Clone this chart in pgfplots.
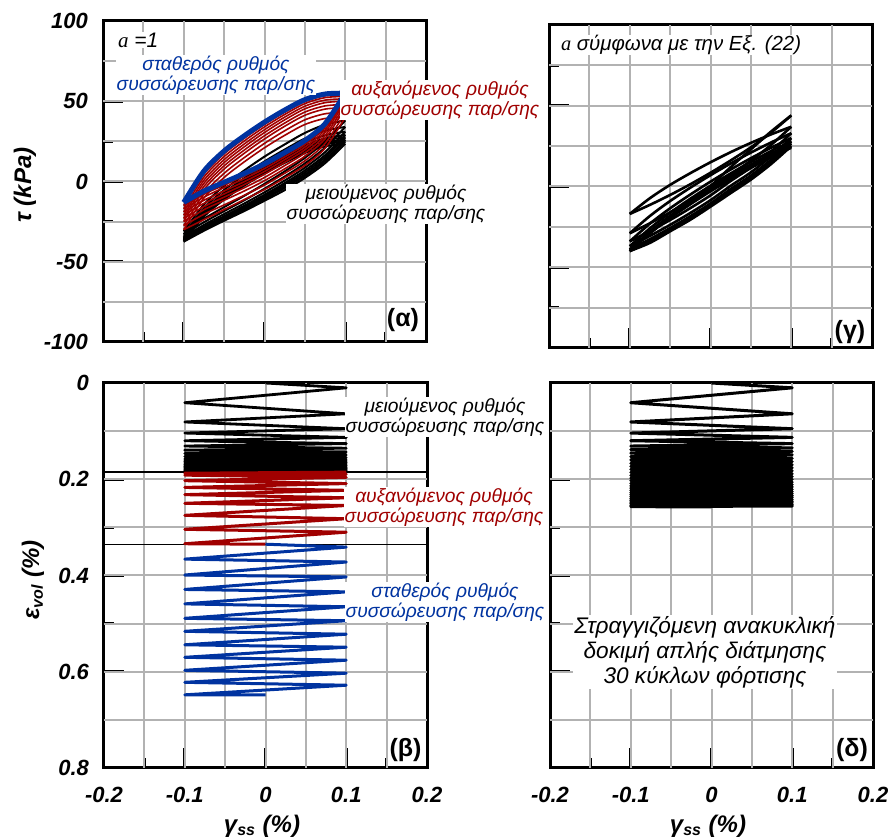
\documentclass[border=0pt]{standalone}
\usepackage{fontspec}
\setmainfont{Liberation Sans}
\newfontfamily\serifit{Liberation Serif}
\usepackage{pgfplots}
\usepackage{pgfplotstable}
\pgfplotsset{compat=1.18}
\definecolor{myblue}{RGB}{0,51,160}
\definecolor{myred}{RGB}{160,0,0}
\definecolor{gridgray}{RGB}{178,178,178}

% ---------- (alpha) loops ----------
\pgfplotstableread{
x Bu Bl
-0.1 -13 -13
-0.075 6.5 -6
-0.05 19 -0.5
-0.025 28.5 5
0 37 11
0.025 44.5 18
0.05 51 25.5
0.075 54.5 36
0.1 55 55
}\tabBlue
\pgfplotstableread{
x R1u R1l R2u R2l R3u R3l R4u R4l R5u R5l R6u R6l R7u R7l R8u R8l
-0.1 -15 -15 -17 -17 -19 -19 -21 -21 -23 -23 -25 -25 -27.5 -27.5 -30 -30
-0.075 4.6 -7.9 2.75 -9.75 0.8 -11.7 -1.1 -13.6 -3.1 -15.6 -5.1 -17.6 -7.7 -20.4 -10.25 -23.75
-0.05 17.25 -2.25 15.5 -3.75 13.6 -5.9 11.75 -7.75 9.75 -9.75 7.75 -11.75 5.1 -14.6 2.5 -17.5
-0.025 26.9 3.4 25.25 1.75 23.4 -0.1 21.6 -1.9 19.6 -3.9 17.6 -5.9 14.9 -8.6 12.25 -11.25
0 35.5 9.5 34 8 32.25 6.25 30.5 4.5 28.5 2.5 26.5 0.5 23.75 -2.25 21 -5
0.025 43.1 16.6 41.75 15.25 40.1 13.6 38.4 11.9 36.4 9.9 34.4 7.9 31.6 5.1 28.75 2.25
0.05 49.75 24.25 48.5 23 46.9 21.4 45.25 19.75 43.25 17.75 41.25 15.75 38.4 12.9 35.5 10
0.075 53.4 34.9 52.25 33.75 50.7 32.2 49.1 30.6 47.1 28.6 45.1 26.6 42.2 23.7 39.25 20.75
0.1 54 54 53 53 51.5 51.5 50 50 48 48 46 46 43 43 40 40
}\tabRed
\pgfplotstableread{
x K1u K1l K2u K2l K3u K3l K4u K4l K5u K5l K6u K6l K7u K7l K8u K8l
-0.1 -31 -31 -33 -33 -34.5 -34.5 -35.5 -35.5 -36 -36 -36.5 -36.5 -37 -37 -37.5 -37.5
-0.075 -14.4 -23.2 -16.6 -25.4 -18.3 -27.1 -19.4 -28.2 -20.1 -28.9 -20.7 -29.5 -21.25 -30.05 -21.9 -30.7
-0.05 -2.75 -15.95 -5.25 -18.45 -7.1 -20.3 -8.4 -21.6 -9.1 -22.3 -9.9 -23.1 -10.5 -23.7 -11.25 -24.45
-0.025 6.9 -8.9 4.1 -11.7 2.1 -13.7 0.7 -15.1 -0.2 -16 -1.1 -16.9 -1.75 -17.55 -2.6 -18.4
0 15.5 -1.5 12.5 -4.5 10.25 -6.75 8.75 -8.25 7.75 -9.25 6.75 -10.25 6 -11 5 -12
0.025 23.1 6.3 19.9 3.1 17.4 0.6 15.8 -1 14.7 -2.1 13.6 -3.2 12.75 -4.05 11.6 -5.4
0.05 30.25 14.75 26.75 11.25 24.1 8.6 22.4 6.9 21.1 5.6 19.9 4.4 19 3.5 17.75 2.25
0.075 35.4 24.9 31.6 21.1 28.8 18.3 26.9 16.4 25.6 15.1 24.2 13.7 23.25 12.75 21.9 11.4
0.1 38 38 34 34 31 31 29 29 27.5 27.5 26 26 25 25 23.5 23.5
}\tabBlack
% ---------- (gamma) loops ----------
\pgfplotstableread{
x G1l G2u G3l G4u G5l G6u G7l G8u G9l G10u G11l G12u G13l G14u
-0.1 -17 -17 -29 -29 -34 -34 -37 -37 -39 -39 -40 -40 -40 -40
-0.075 -11.375 -7.25 -22.75 -18.25 -27.6 -23 -30.6 -25.9 -32.6 -27.8 -33.7 -28.9 -34.9 -29
-0.05 -5.25 1 -16 -9 -20.75 -13.5 -23.75 -16.25 -25.75 -18.1 -26.9 -19.25 -27.75 -19.5
-0.025 1.375 8.25 -8.75 -0.75 -13.4 -5 -16.4 -7.6 -18.4 -9.4 -19.6 -10.6 -20.6 -11
0 8.5 15 -1 7 -5.5 3 -8.5 0.5 -10.5 -1.25 -11.75 -2.5 -12.5 -3
0.025 16.125 21.25 7.25 14.25 3.4 10.5 0.4 8.1 -1.6 6.4 -2.9 5.1 -4.1 4.5
0.05 24.25 27 16 21 11.75 17.5 8.75 15.25 6.75 13.6 5.4 12.25 4.25 11.5
0.075 33.375 32.25 25.75 27.25 21.6 24 18.6 21.9 16.6 20.3 15.2 18.9 13.9 18
0.1 44 37 37 33 33 30 30 28 28 26.5 26.5 25 25 24
}\tabGamma
% ---------- (beta) zigzags ----------
\pgfplotstableread{
x y
0 0
0.1 0.010
-0.1 0.041
0.1 0.064
-0.1 0.081
0.1 0.095
-0.1 0.104
0.1 0.113
-0.1 0.120
0.1 0.126
-0.1 0.131
0.1 0.1355
-0.1 0.1395
0.1 0.1432
-0.1 0.1466
0.1 0.1497
-0.1 0.1526
0.1 0.1553
-0.1 0.1578
0.1 0.1601
-0.1 0.1623
0.1 0.1644
-0.1 0.1664
0.1 0.1683
-0.1 0.1701
0.1 0.1718
-0.1 0.1734
0.1 0.1749
-0.1 0.1764
0.1 0.1778
-0.1 0.1792
0.1 0.1805
-0.1 0.1818
0.1 0.1830
-0.1 0.1842
0.1 0.1853
}\tabZblack
\pgfplotstableread{
x y
0.1 0.1853
-0.1 0.1875
0.1 0.1895
-0.1 0.1915
0.1 0.196
-0.1 0.203
0.1 0.209
-0.1 0.217
0.1 0.223
-0.1 0.232
0.1 0.2385
-0.1 0.250
0.1 0.2545
-0.1 0.275
0.1 0.282
-0.1 0.304
0.1 0.310
-0.1 0.334
0 0.335
}\tabZred
\pgfplotstableread{
x y
0 0.335
0.1 0.341
-0.1 0.366
0.1 0.372
-0.1 0.399
0.1 0.403
-0.1 0.429
0.1 0.434
-0.1 0.459
0.1 0.465
-0.1 0.489
0.1 0.494
-0.1 0.516
0.1 0.522
-0.1 0.544
0.1 0.549
-0.1 0.570
0.1 0.576
-0.1 0.597
0.1 0.603
-0.1 0.622
0.1 0.628
-0.1 0.648
0 0.648
}\tabZblue
% ---------- (delta) zigzag ----------
\pgfplotstableread{
x y
0 0
0.1 0.010
-0.1 0.041
0.1 0.064
-0.1 0.081
0.1 0.095
-0.1 0.104
0.1 0.113
-0.1 0.120
0.1 0.126
-0.1 0.131
0.1 0.1348
-0.1 0.1386
0.1 0.1423
-0.1 0.1459
0.1 0.1495
-0.1 0.1531
0.1 0.1566
-0.1 0.1600
0.1 0.1634
-0.1 0.1668
0.1 0.1701
-0.1 0.1733
0.1 0.1765
-0.1 0.1797
0.1 0.1828
-0.1 0.1858
0.1 0.1888
-0.1 0.1918
0.1 0.1947
-0.1 0.1975
0.1 0.2003
-0.1 0.2031
0.1 0.2058
-0.1 0.2084
0.1 0.2110
-0.1 0.2136
0.1 0.2161
-0.1 0.2185
0.1 0.2209
-0.1 0.2233
0.1 0.2256
-0.1 0.2278
0.1 0.2300
-0.1 0.2322
0.1 0.2343
-0.1 0.2363
0.1 0.2383
-0.1 0.2403
0.1 0.2422
-0.1 0.2440
0.1 0.2458
-0.1 0.2476
0.1 0.2493
-0.1 0.2509
0.1 0.2525
-0.1 0.2541
0.1 0.2556
-0.1 0.2570
0 0.2575
}\tabDelta

\pgfplotsset{
  panel/.style={
    scale only axis,
    width=161.5pt,
    xmin=-0.2, xmax=0.2,
    xtick={-0.2,-0.1,0,0.1,0.2},
    minor xtick={-0.15,-0.05,0.05,0.15},
    tick align=inside,
    xtick pos=left, ytick pos=left,
    major tick length=10pt, minor tick length=5pt,
    major tick style={black, line width=1.3pt},
    minor tick style={black, line width=1.3pt},
    axis line style={line width=1.5pt},
    tick label style={font=\fontsize{11}{12}\selectfont\bfseries\itshape},
    yticklabel style={xshift=-4pt},
    xticklabel style={yshift=-6pt},
  },
}
\tikzset{
  ann/.style={font=\fontsize{9.6}{10}\selectfont\itshape, fill=white, inner sep=0.3pt, align=center},
  plab/.style={font=\fontsize{12.5}{13}\selectfont\bfseries},
  alab/.style={font=\fontsize{12}{13}\selectfont\bfseries\itshape},
  gl/.style={draw=gridgray, line width=1pt},
}
\newcommand{\vgrid}[2]{\pgfplotsinvokeforeach{-0.15,-0.1,-0.05,0,0.05,0.1,0.15}{\draw[gl] (axis cs:##1,#1) -- (axis cs:##1,#2);}}
\newcommand{\hgridtop}{\pgfplotsinvokeforeach{-75,-50,-25,0,25,50,75}{\draw[gl] (axis cs:-0.2,##1) -- (axis cs:0.2,##1);}}
\newcommand{\hgridbot}{\pgfplotsinvokeforeach{0.1,0.2,0.3,0.4,0.5,0.6,0.7}{\draw[gl] (axis cs:-0.2,##1) -- (axis cs:0.2,##1);}}

\begin{document}
\begin{tikzpicture}
\path[use as bounding box] (0,0) rectangle (445pt,-419pt);

% (alpha)
\begin{axis}[panel, at={(51.5pt,-10.5pt)}, anchor=north west, height=160.5pt,
  ymin=-100, ymax=100, ytick={-100,-50,0,50,100}, minor ytick={-75,-25,25,75},
  yticklabels={-100,-50,0,50,100}, xticklabels={}]
\vgrid{-100}{100}
\hgridtop
\pgfplotsinvokeforeach{K1u,K1l,K2u,K2l,K3u,K3l,K4u,K4l,K5u,K5l,K6u,K6l,K7u,K7l,K8u,K8l}{
  \addplot[black, line width=1pt, smooth] table[x=x,y=#1]{\tabBlack};
}
\pgfplotsinvokeforeach{R1u,R1l,R2u,R2l,R3u,R3l,R4u,R4l,R5u,R5l,R6u,R6l,R7u,R7l,R8u,R8l}{
  \addplot[myred, line width=0.8pt, smooth] table[x=x,y=#1]{\tabRed};
}
\addplot[myblue, line width=2.5pt, smooth] table[x=x,y=Bu]{\tabBlue};
\addplot[myblue, line width=2.5pt, smooth] table[x=x,y=Bl]{\tabBlue};
\end{axis}

% (gamma)
\begin{axis}[panel, at={(274.5pt,-12.5pt)}, anchor=north west, height=161.5pt,
  ymin=-100, ymax=100, ytick={-100,-50,0,50,100}, minor ytick={-75,-25,25,75},
  yticklabels={}, xticklabels={}]
\vgrid{-100}{100}
\hgridtop
\addplot[black, line width=1.3pt, smooth] coordinates {(0,0) (0.025,12) (0.05,23) (0.075,34) (0.1,44)};
\pgfplotsinvokeforeach{G1l,G2u,G3l,G4u,G5l,G6u,G7l,G8u,G9l,G10u,G11l,G12u,G13l,G14u}{
  \addplot[black, line width=1.3pt, smooth] table[x=x,y=#1]{\tabGamma};
}
\end{axis}

% (beta)
\begin{axis}[panel, at={(52pt,-191.5pt)}, anchor=north west, height=192.5pt,
  y dir=reverse, ymin=0, ymax=0.8, ytick={0,0.2,0.4,0.6,0.8}, minor ytick={0.1,0.3,0.5,0.7},
  yticklabels={0,0.2,0.4,0.6,0.8}, xticklabels={-0.2,-0.1,0,0.1,0.2}]
\vgrid{0}{0.8}
\hgridbot
\addplot[black, line width=0.6pt] coordinates {(-0.2,0.185) (0.2,0.185)};
\addplot[black, line width=0.6pt] coordinates {(-0.2,0.335) (0.2,0.335)};
\addplot[black, line width=1.4pt, line join=round] table[x=x,y=y]{\tabZblack};
\addplot[myred, line width=1.5pt, line join=round] table[x=x,y=y]{\tabZred};
\addplot[myblue, line width=1.5pt, line join=round] table[x=x,y=y]{\tabZblue};
\end{axis}

% (delta)
\begin{axis}[panel, at={(275pt,-191.5pt)}, anchor=north west, height=192.5pt,
  y dir=reverse, ymin=0, ymax=0.8, ytick={0,0.2,0.4,0.6,0.8}, minor ytick={0.1,0.3,0.5,0.7},
  yticklabels={}, xticklabels={-0.2,-0.1,0,0.1,0.2}]
\vgrid{0}{0.8}
\hgridbot
\addplot[black, line width=1.5pt, line join=round] table[x=x,y=y]{\tabDelta};
\end{axis}

% annotations
\node[anchor=west, font=\fontsize{10.5}{12}\selectfont\itshape, fill=white, inner sep=0.3pt] at (58.5pt,-20pt) {{\serifit a} =1};
\node[ann, text=myblue] at (108pt,-37.5pt) {σταθερός ρυθμός\\συσσώρευσης παρ/σης};
\node[ann, text=myred] at (220pt,-50pt) {αυξανόμενος ρυθμός\\συσσώρευσης παρ/σης};
\node[ann] at (193pt,-102pt) {μειούμενος ρυθμός\\συσσώρευσης παρ/σης};

\node[ann] at (222.5pt,-208.5pt) {μειούμενος ρυθμός\\συσσώρευσης παρ/σης};
\node[ann, text=myred] at (222pt,-253.5pt) {αυξανόμενος ρυθμός\\συσσώρευσης παρ/σης};
\node[ann, text=myblue] at (222.5pt,-301pt) {σταθερός ρυθμός\\συσσώρευσης παρ/σης};

\node[anchor=west, font=\fontsize{10.2}{12}\selectfont\itshape, fill=white, inner sep=0.3pt] at (280pt,-22.5pt) {{\serifit a} σύμφωνα με την Εξ. (22)};
\node[font=\fontsize{11.3}{12.5}\selectfont\itshape, fill=white, inner sep=0.5pt, align=center] at (352.5pt,-326pt) {Στραγγιζόμενη ανακυκλική\\δοκιμή απλής διάτμησης\\30 κύκλων φόρτισης};

\node[plab] at (201.5pt,-160pt) {(α)};
\node[plab] at (202.75pt,-375pt) {(β)};
\node[plab] at (425pt,-166pt) {(γ)};
\node[plab] at (426pt,-375pt) {(δ)};

\node[alab, rotate=90] at (12.5pt,-92.5pt) {τ (kPa)};
\node[alab, rotate=90] at (16.5pt,-290pt) {ε\textsubscript{vol} (\%)};
\node[alab] at (131pt,-413pt) {γ\textsubscript{ss} (\%)};
\node[alab] at (354pt,-413pt) {γ\textsubscript{ss} (\%)};
\end{tikzpicture}
\end{document}
